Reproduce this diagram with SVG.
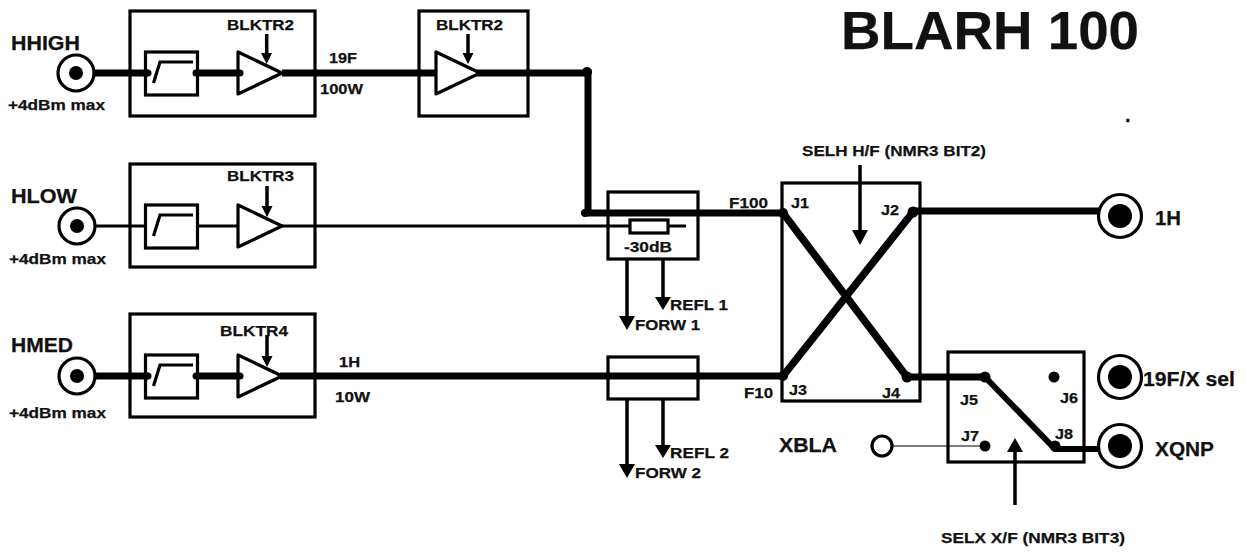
<svg xmlns="http://www.w3.org/2000/svg" width="1247" height="554" viewBox="0 0 1247 554">
<style>
text{font-family:"Liberation Sans",Arial,sans-serif;font-weight:bold;fill:#111;stroke:#111;stroke-width:.25px}
.s{font-size:15.500px}.m{font-size:15px}.l{font-size:20px}
.b{fill:none;stroke:#000;stroke-width:3.2}
.t{fill:none;stroke:#000;stroke-width:7}
.n{fill:none;stroke:#000;stroke-width:3}
.a{fill:none;stroke:#000;stroke-width:3.5}
.d{fill:#000}
</style>
<defs>
<g id="filt"><rect class="b" x="145.500" y="0" width="52" height="43"/><polyline class="b" points="153.500,31 160,10 193,10"/></g>
<g id="amp"><polygon class="b" points="0,0 0,42 44,21" stroke-linejoin="round"/></g>
<g id="jack"><circle r="18" fill="#fff" stroke="#000" stroke-width="3.200"/><circle r="7" class="d"/></g>
<g id="jackb"><circle r="21.500" fill="#fff" stroke="#000" stroke-width="3.200"/><circle r="12" class="d"/></g>
</defs>
<rect width="1247" height="554" fill="#fff"/>
<g id="connectors">
<path class="t" d="M94 73H148M197 73H238M282 73H436M477 73H588V213H781"/>
<path class="n" d="M95 226H145M197 226H238M282 226H630M668 226H686"/>
<path class="t" d="M94 376H148M197 376H238M280 376H781"/>
<path fill="none" stroke="#000" stroke-width="7.500" d="M783 213L907 377M783 376L913 212"/>
<path class="t" d="M913 211H1100M907 377H985"/>
<path fill="none" stroke="#000" stroke-width="6" d="M985 377L1055 449H1100"/>
<path fill="none" stroke="#000" stroke-width="1.200" d="M892 446H985"/>
<path class="a" d="M266.700 34V55M468 34V55M267 186V208M267 335V358M860 165V232M1015 505V450M627 259V318M663 259V298M627 399V466M663 399V446"/>
<path class="d" d="M261 53H272L266.700 64ZM462.500 53H473.500L468 64ZM261.500 206H272.500L267 217ZM261.500 356H272.500L267 367ZM852 230H868L860 245ZM1007 452H1023L1015 438ZM619 316H635L627 330ZM655 297H671L663 310ZM619 464H635L627 478ZM655 445H671L663 458Z"/>
<circle class="d" cx="148" cy="73" r="3.500"/><circle class="d" cx="196" cy="73" r="3.500"/><circle class="d" cx="240" cy="73" r="3.500"/>
<circle class="d" cx="148" cy="376" r="3.500"/><circle class="d" cx="196" cy="376" r="3.500"/><circle class="d" cx="240" cy="376" r="3.500"/>
<circle class="d" cx="587" cy="72" r="5"/><circle class="d" cx="585" cy="213" r="4"/>
<circle class="d" cx="783" cy="213" r="5"/><circle class="d" cx="783" cy="376" r="5"/><circle class="d" cx="913" cy="212" r="5.500"/><circle class="d" cx="907" cy="377" r="5.500"/>
<circle class="d" cx="985" cy="377" r="5.500"/><circle class="d" cx="1054" cy="377" r="5.500"/><circle class="d" cx="985" cy="446" r="5.500"/><circle class="d" cx="1055" cy="446" r="5.500"/>
</g>
<g id="title"><text x="841" y="49" font-size="54" textLength="298" lengthAdjust="spacingAndGlyphs">BLARH 100</text><text x="1125" y="122" font-size="20">.</text></g>
<g id="in-hhigh"><use href="#jack" x="76" y="73"/><text class="l" x="11" y="50" textLength="69" lengthAdjust="spacingAndGlyphs">HHIGH</text><text class="m" x="8" y="110" textLength="97" lengthAdjust="spacingAndGlyphs">+4dBm max</text></g>
<g id="in-hlow"><use href="#jack" x="77" y="226"/><text class="l" x="11" y="203" textLength="66" lengthAdjust="spacingAndGlyphs">HLOW</text><text class="m" x="9" y="264" textLength="97" lengthAdjust="spacingAndGlyphs">+4dBm max</text></g>
<g id="in-hmed"><use href="#jack" x="77" y="376"/><text class="l" x="11" y="352" textLength="62" lengthAdjust="spacingAndGlyphs">HMED</text><text class="m" x="9" y="418" textLength="97" lengthAdjust="spacingAndGlyphs">+4dBm max</text></g>
<g id="amp1"><rect class="b" x="130" y="11" width="185" height="105"/><use href="#filt" y="52"/><use href="#amp" x="238" y="52"/><text class="s" x="227" y="30" textLength="67" lengthAdjust="spacingAndGlyphs">BLKTR2</text></g>
<g id="amp2"><rect class="b" x="130" y="164" width="185" height="103"/><use href="#filt" y="205"/><use href="#amp" x="238" y="205"/><text class="s" x="227" y="181" textLength="67" lengthAdjust="spacingAndGlyphs">BLKTR3</text></g>
<g id="amp3"><rect class="b" x="130" y="314" width="185" height="103"/><use href="#filt" y="355"/><use href="#amp" x="238" y="355"/><text class="s" x="220" y="336" textLength="68" lengthAdjust="spacingAndGlyphs">BLKTR4</text></g>
<g id="amp4"><rect class="b" x="419" y="11" width="109" height="105"/><use href="#amp" x="436" y="52"/><text class="s" x="436" y="30" textLength="67" lengthAdjust="spacingAndGlyphs">BLKTR2</text></g>
<g id="labels"><text class="s" x="329" y="63" textLength="28" lengthAdjust="spacingAndGlyphs">19F</text><text class="s" x="320" y="94" textLength="43" lengthAdjust="spacingAndGlyphs">100W</text><text class="s" x="339" y="367" textLength="21" lengthAdjust="spacingAndGlyphs">1H</text><text class="s" x="335" y="402" textLength="35" lengthAdjust="spacingAndGlyphs">10W</text></g>
<g id="coupler1"><rect class="b" x="608" y="192" width="90" height="67"/><rect class="b" x="630" y="220" width="38" height="13"/><text class="s" x="624" y="252" textLength="48" lengthAdjust="spacingAndGlyphs">-30dB</text><text class="s" x="670" y="310" textLength="58" lengthAdjust="spacingAndGlyphs">REFL 1</text><text class="s" x="635" y="330" textLength="65" lengthAdjust="spacingAndGlyphs">FORW 1</text></g>
<g id="coupler2"><rect class="b" x="608" y="357" width="90" height="42"/><text class="s" x="670" y="458" textLength="59" lengthAdjust="spacingAndGlyphs">REFL 2</text><text class="s" x="635" y="478" textLength="66" lengthAdjust="spacingAndGlyphs">FORW 2</text></g>
<g id="switch1"><rect class="b" x="782" y="183" width="138" height="218"/><text class="s" x="729" y="208" textLength="39" lengthAdjust="spacingAndGlyphs">F100</text><text class="s" x="744" y="398" textLength="29" lengthAdjust="spacingAndGlyphs">F10</text><text class="s" x="791" y="208" textLength="18" lengthAdjust="spacingAndGlyphs">J1</text><text class="s" x="881" y="215" textLength="18" lengthAdjust="spacingAndGlyphs">J2</text><text class="s" x="789" y="395" textLength="18" lengthAdjust="spacingAndGlyphs">J3</text><text class="s" x="882" y="398" textLength="18" lengthAdjust="spacingAndGlyphs">J4</text><text class="s" x="802" y="156" textLength="184" lengthAdjust="spacingAndGlyphs">SELH H/F (NMR3 BIT2)</text></g>
<g id="switch2"><rect class="b" x="948" y="352" width="136" height="110"/><text class="s" x="960" y="405" textLength="18" lengthAdjust="spacingAndGlyphs">J5</text><text class="s" x="1060" y="403" textLength="18" lengthAdjust="spacingAndGlyphs">J6</text><text class="s" x="961" y="441" textLength="18" lengthAdjust="spacingAndGlyphs">J7</text><text class="s" x="1055" y="439" textLength="18" lengthAdjust="spacingAndGlyphs">J8</text><text class="s" x="941" y="543" textLength="184" lengthAdjust="spacingAndGlyphs">SELX X/F (NMR3 BIT3)</text></g>
<g id="out-1h"><use href="#jackb" x="1120" y="216"/><text class="l" x="1155" y="225" textLength="26" lengthAdjust="spacingAndGlyphs">1H</text></g>
<g id="out-19f"><use href="#jackb" x="1120" y="377"/><text class="l" x="1143" y="386" textLength="92" lengthAdjust="spacingAndGlyphs">19F/X sel</text></g>
<g id="out-xqnp"><use href="#jackb" x="1120" y="446"/><text class="l" x="1155" y="456" textLength="59" lengthAdjust="spacingAndGlyphs">XQNP</text></g>
<g id="xbla"><circle cx="882" cy="446" r="10" fill="#fff" stroke="#000" stroke-width="3.200"/><text class="l" x="779" y="452" textLength="58" lengthAdjust="spacingAndGlyphs">XBLA</text></g>
</svg>
